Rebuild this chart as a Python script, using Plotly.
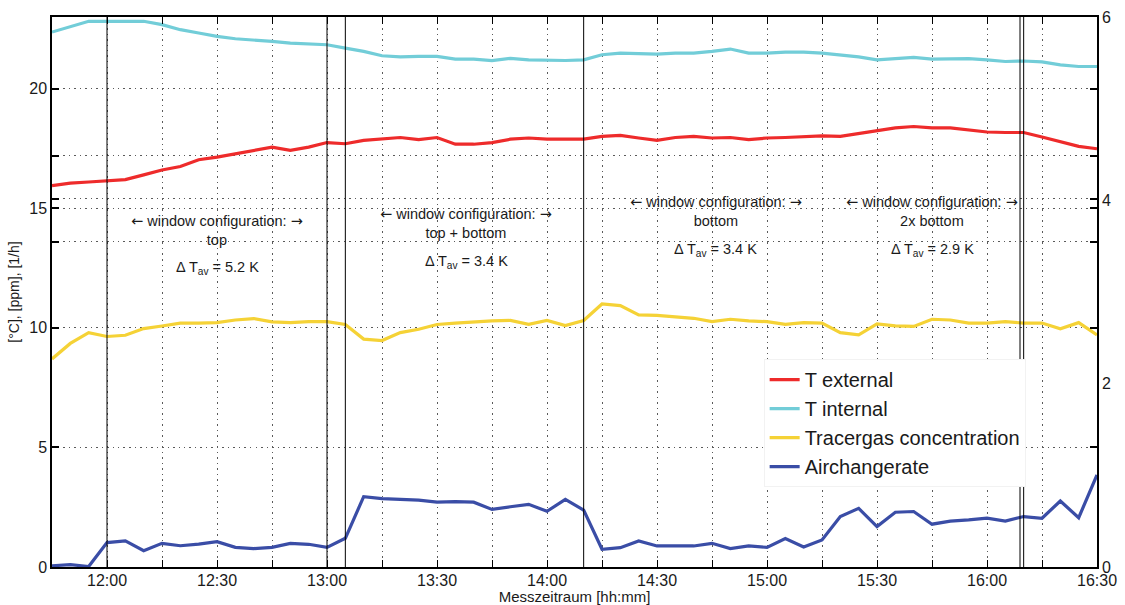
import pandas as pd
import plotly.graph_objects as go

# Sampling: every 5 minutes from 11:45 to 16:30
times = pd.date_range("2000-01-01 11:45", periods=58, freq="5min")

t_external = [
    15.95, 16.05, 16.10, 16.15, 16.20, 16.40, 16.60, 16.75, 17.03, 17.14,
    17.28, 17.42, 17.56, 17.42, 17.56, 17.75, 17.70, 17.84, 17.89, 17.96,
    17.87, 17.96, 17.68, 17.68, 17.75, 17.89, 17.94, 17.89, 17.89, 17.89,
    18.01, 18.05, 17.94, 17.84, 17.96, 18.01, 17.94, 17.96, 17.87, 17.94,
    17.96, 18.01, 18.03, 18.01, 18.12, 18.22, 18.36, 18.42, 18.36, 18.36,
    18.26, 18.19, 18.17, 18.17, 17.98, 17.77, 17.59, 17.49,
]
t_internal = [
    22.37, 22.60, 22.82, 22.82, 22.82, 22.82, 22.68, 22.47, 22.33, 22.19,
    22.09, 22.05, 21.98, 21.91, 21.88, 21.84, 21.70, 21.56, 21.38, 21.33,
    21.35, 21.35, 21.24, 21.24, 21.18, 21.27, 21.21, 21.18, 21.18, 21.21,
    21.42, 21.49, 21.46, 21.45, 21.49, 21.49, 21.56, 21.66, 21.49, 21.49,
    21.53, 21.53, 21.49, 21.42, 21.33, 21.21, 21.26, 21.31, 21.24, 21.24,
    21.26, 21.21, 21.14, 21.16, 21.12, 21.00, 20.93, 20.93,
]
tracergas = [
    8.70, 9.35, 9.80, 9.64, 9.69, 9.97, 10.08, 10.20, 10.20, 10.22,
    10.33, 10.39, 10.25, 10.22, 10.26, 10.26, 10.14, 9.53, 9.47, 9.80,
    9.94, 10.14, 10.20, 10.26, 10.29, 10.31, 10.15, 10.31, 10.10, 10.31,
    11.00, 10.93, 10.54, 10.52, 10.47, 10.40, 10.26, 10.36, 10.29, 10.26,
    10.15, 10.22, 10.20, 9.80, 9.71, 10.17, 10.08, 10.06, 10.36, 10.33,
    10.20, 10.20, 10.26, 10.20, 10.20, 9.96, 10.22, 9.71,
]
airchange = [
    0.05, 0.10, 0.02, 1.02, 1.09, 0.68, 0.99, 0.89, 0.96, 1.06,
    0.82, 0.77, 0.82, 0.99, 0.95, 0.82, 1.20, 2.94, 2.86, 2.83,
    2.80, 2.71, 2.73, 2.71, 2.41, 2.52, 2.62, 2.33, 2.83, 2.38,
    0.74, 0.81, 1.09, 0.88, 0.88, 0.88, 0.99, 0.77, 0.88, 0.82,
    1.19, 0.84, 1.13, 2.11, 2.45, 1.69, 2.29, 2.32, 1.79, 1.92,
    1.97, 2.04, 1.92, 2.11, 2.04, 2.76, 2.06, 3.85,
]

x_tick_labels = ["12:00", "12:30", "13:00", "13:30", "14:00",
                 "14:30", "15:00", "15:30", "16:00", "16:30"]
left_ticks = [0, 5, 10, 13.6, 15, 15.4, 17.2, 20]
left_tick_labels = ["0", "5", "10", "", "15", "", "", "20"]
right_ticks = [0, 2, 4, 6]
right_tick_labels = ["0", "2", "4", "6"]

# Changes of window configuration
boundaries = ["12:00", "13:00", "13:05", "14:10", "16:09", "16:10"]

ARROW_L = '<span style="font-family:DejaVu Sans">←</span>'
ARROW_R = '<span style="font-family:DejaVu Sans">→</span>'

# Configuration labels: (centre time, y of heading block, y of delta line, heading, delta value)
configs = [
    ("12:30", 14.06, 12.50, "top", "5.2 K"),
    ("13:38", 14.37, 12.76, "top + bottom", "3.4 K"),
    ("14:46", 14.85, 13.26, "bottom", "3.4 K"),
    ("15:45", 14.85, 13.26, "2x bottom", "2.9 K"),
]

series = [
    ("T external", t_external, "#EE2B2B"),
    ("T internal", t_internal, "#72CDD8"),
    ("Tracergas concentration", tracergas, "#F5D236"),
    ("Airchangerate", airchange, "#3A4DA6"),
]

day = "2000-01-01 "
FONT = "Liberation Sans, Arial, sans-serif"
grid_col = "#5a5a5a"
grid_dash = "1.5px,4px"

fig = go.Figure()
for name, vals, col in series:
    fig.add_trace(go.Scatter(x=times, y=vals, mode="lines", name=name,
                             line=dict(color=col, width=3.2)))

# Carrier trace for the right-hand axis
fig.add_trace(go.Scatter(x=[times[0]], y=[None], yaxis="y2", showlegend=False,
                         hoverinfo="skip", mode="lines"))

for b in boundaries:
    fig.add_shape(type="line", xref="x", yref="paper", x0=day + b, x1=day + b,
                  y0=0, y1=1, line=dict(color="black", width=1))

for tc, yh, yd, config, dt in configs:
    head = f"{ARROW_L} window configuration: {ARROW_R}<br>{config}"
    fig.add_annotation(x=day + tc, y=yh, xref="x", yref="y", text=head,
                       showarrow=False, font=dict(size=14.5, color="#1a1a1a", family=FONT),
                       align="center", yanchor="middle")
    fig.add_annotation(x=day + tc, y=yd, xref="x", yref="y",
                       text=f"Δ T<sub>av</sub> = {dt}",
                       showarrow=False, font=dict(size=14.5, color="#1a1a1a", family=FONT),
                       align="center", yanchor="middle")

fig.update_layout(
    width=1125, height=605,
    margin=dict(l=52, r=28, t=17, b=38, autoexpand=False),
    paper_bgcolor="white", plot_bgcolor="white",
    font=dict(family=FONT, color="#1a1a1a"),
    showlegend=True,
    legend=dict(x=0.681, y=0.378, xanchor="left", yanchor="top",
                bgcolor="white", bordercolor="#f2f2f2", borderwidth=1,
                font=dict(size=20, color="#1a1a1a", family=FONT),
                tracegroupgap=0, itemwidth=30),
    xaxis=dict(
        type="date", automargin=False,
        range=[day + "11:45", day + "16:30"],
        tickvals=[day + t for t in x_tick_labels],
        ticktext=x_tick_labels,
        ticks="inside", ticklen=7, tickwidth=1.2, tickcolor="black",
        ticklabelstandoff=-2,
        showline=True, linecolor="black", linewidth=1.5, mirror="ticks",
        showgrid=True, gridcolor=grid_col, griddash=grid_dash, gridwidth=1.2,
        minor=dict(dtick=15 * 60 * 1000, tick0=day + "11:45", ticks="inside",
                   ticklen=7, tickwidth=1.2, tickcolor="black",
                   showgrid=True, gridcolor=grid_col, griddash=grid_dash, gridwidth=1.2),
        tickfont=dict(size=16, color="#1a1a1a"),
        title=dict(text="Messzeitraum [hh:mm]", font=dict(size=15), standoff=2),
        zeroline=False,
    ),
    yaxis=dict(
        automargin=False,
        range=[0, 23],
        tickvals=left_ticks, ticktext=left_tick_labels,
        ticks="inside", ticklen=7, tickwidth=1.5, tickcolor="black",
        showline=True, linecolor="black", linewidth=1.5, mirror="ticks",
        showgrid=True, gridcolor=grid_col, griddash=grid_dash, gridwidth=1.2,
        tickfont=dict(size=16, color="#1a1a1a"),
        title=dict(text="[°C], [ppm], [1/h]", font=dict(size=14), standoff=6),
        zeroline=False,
    ),
    yaxis2=dict(
        automargin=False,
        range=[0, 6], overlaying="y", side="right", anchor="x",
        tickvals=right_ticks, ticktext=right_tick_labels,
        ticks="", showline=True, linecolor="black", linewidth=1.5,
        showgrid=False, zeroline=False,
        tickfont=dict(size=16, color="#1a1a1a"),
    ),
)

fig.write_html("out.html")
